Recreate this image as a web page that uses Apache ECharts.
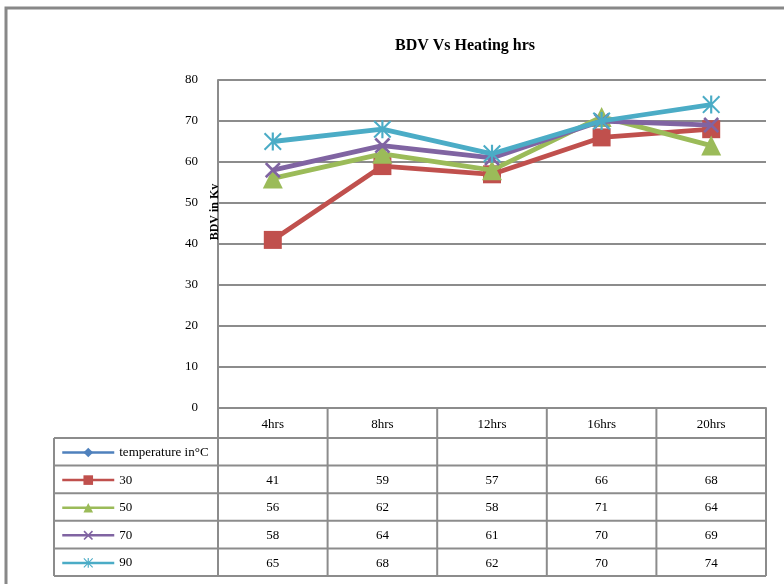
<!DOCTYPE html>
<html><head><meta charset="utf-8">
<script src="https://cdn.jsdelivr.net/npm/echarts@6/dist/echarts.min.js"></script>
<style>html,body{margin:0;padding:0;background:#fff}#c{width:784px;height:584px}</style>
</head><body><div id="c"></div>
<script>
const categories = ['4hrs', '8hrs', '12hrs', '16hrs', '20hrs'];
const seriesNames = ['temperature in\u00B0C', '30', '50', '70', '90'];
const values30 = [41, 59, 57, 66, 68];
const values50 = [56, 62, 58, 71, 64];
const values70 = [58, 64, 61, 70, 69];
const values90 = [65, 68, 62, 70, 74];
const yMin = 0, yMax = 80, yStep = 10;
const titleText = 'BDV Vs Heating hrs';
const yTitle = 'BDV in Kv';

const FONT = '"Liberation Serif", "Times New Roman", serif';
const colors = ['#4F81BD', '#C0504D', '#9BBB59', '#8064A2', '#4BACC6'];
const X_PATH = 'path://M0,1.2 L1.2,0 L5,3.8 L8.8,0 L10,1.2 L6.2,5 L10,8.8 L8.8,10 L5,6.2 L1.2,10 L0,8.8 L3.8,5 Z';
const AST_PATH = 'path://M0,0.8 L0.8,0 L5,4.2 L9.2,0 L10,0.8 L5.8,5 L10,9.2 L9.2,10 L5,5.8 L0.8,10 L0,9.2 L4.2,5 Z M4.4,0 L5.6,0 L5.6,10 L4.4,10 Z';
const symbols = ['diamond', 'rect', 'triangle', X_PATH, AST_PATH];
const symSizes = [12, 18, 20, 16, 18];
const allData = [[], values30, values50, values70, values90];

const gridLeft = 218, gridRight = 766, gridTop = 80, gridBottom = 408;

const chart = echarts.init(document.getElementById('c'));
chart.setOption({
  animation: false,
  backgroundColor: '#fff',
  title: {
    text: titleText, left: 460, top: 33, textAlign: 'center',
    textStyle: { fontFamily: FONT, fontSize: 16, fontWeight: 'bold', color: '#000' }
  },
  grid: { left: gridLeft, right: 784 - gridRight, top: gridTop, bottom: 584 - gridBottom, containLabel: false },
  xAxis: {
    type: 'category', data: categories, boundaryGap: true,
    axisLine: { show: true, lineStyle: { color: '#8c8c8c', width: 2 } },
    axisTick: { show: false },
    axisLabel: { margin: 10, fontFamily: FONT, fontSize: 13, color: '#000' },
    splitLine: { show: false }
  },
  yAxis: {
    type: 'value', min: yMin, max: yMax, interval: yStep,
    axisLine: { show: true, lineStyle: { color: '#8c8c8c', width: 2 } },
    axisTick: { show: false },
    axisLabel: { margin: 20, fontFamily: FONT, fontSize: 13, color: '#000' },
    splitLine: { show: true, lineStyle: { color: '#8c8c8c', width: 2 } }
  },
  legend: {
    orient: 'vertical', left: 56, top: 441,
    itemWidth: 52, itemHeight: 12, itemGap: 14.6,
    textStyle: { fontFamily: FONT, fontSize: 13, color: '#000' },
    lineStyle: { width: 2.5 },
    data: seriesNames
  },
  series: seriesNames.map((n, i) => ({
    name: n, type: 'line', data: allData[i],
    color: colors[i],
    symbol: symbols[i], symbolSize: symSizes[i], showSymbol: true,
    lineStyle: { width: 4.8, color: colors[i] },
    itemStyle: { color: colors[i] },
    z: 2 + i
  }))
});

// Data table drawn from the arrays, positioned through the category axis
function buildTable() {
  const centers = categories.map(c => chart.convertToPixel({ xAxisIndex: 0 }, c));
  const band = centers.length > 1 ? centers[1] - centers[0] : (gridRight - gridLeft);
  const tableLeft = 54;
  const headerBottom = 438;
  const rowH = 27.6;
  const nRows = seriesNames.length;
  const tableBottom = headerBottom + rowH * nRows;
  const lineStyle = { stroke: '#8c8c8c', lineWidth: 2 };
  const els = [];
  els.push({ type: 'rect', shape: { x: 6, y: 8, width: 820, height: 620 }, style: { fill: 'none', stroke: '#888', lineWidth: 3 }, silent: true, z: 0 });
  const xs = [centers[0] - band / 2].concat(centers.map(c => c + band / 2));
  xs.forEach(x => els.push({ type: 'line', shape: { x1: x, y1: gridBottom, x2: x, y2: tableBottom }, style: lineStyle, silent: true, z: 1 }));
  els.push({ type: 'line', shape: { x1: tableLeft, y1: headerBottom, x2: tableLeft, y2: tableBottom }, style: lineStyle, silent: true, z: 1 });
  for (let r = 0; r <= nRows; r++) {
    const y = headerBottom + rowH * r;
    els.push({ type: 'line', shape: { x1: tableLeft, y1: y, x2: xs[xs.length - 1], y2: y }, style: lineStyle, silent: true, z: 1 });
  }
  allData.forEach((arr, r) => {
    arr.forEach((v, ci) => {
      els.push({
        type: 'text', silent: true, z: 5,
        style: { text: String(v), x: centers[ci], y: headerBottom + rowH * (r + 0.5) + 1, textAlign: 'center', textVerticalAlign: 'middle', font: '13px ' + FONT, fill: '#000' }
      });
    });
  });
  els.push({
    type: 'text', silent: true, z: 10, x: 215, y: 212, rotation: Math.PI / 2,
    style: { text: yTitle, textAlign: 'center', textVerticalAlign: 'middle', font: 'bold 12px ' + FONT, fill: '#000' }
  });
  chart.setOption({ graphic: els });
}
buildTable();
</script>
</body></html>
